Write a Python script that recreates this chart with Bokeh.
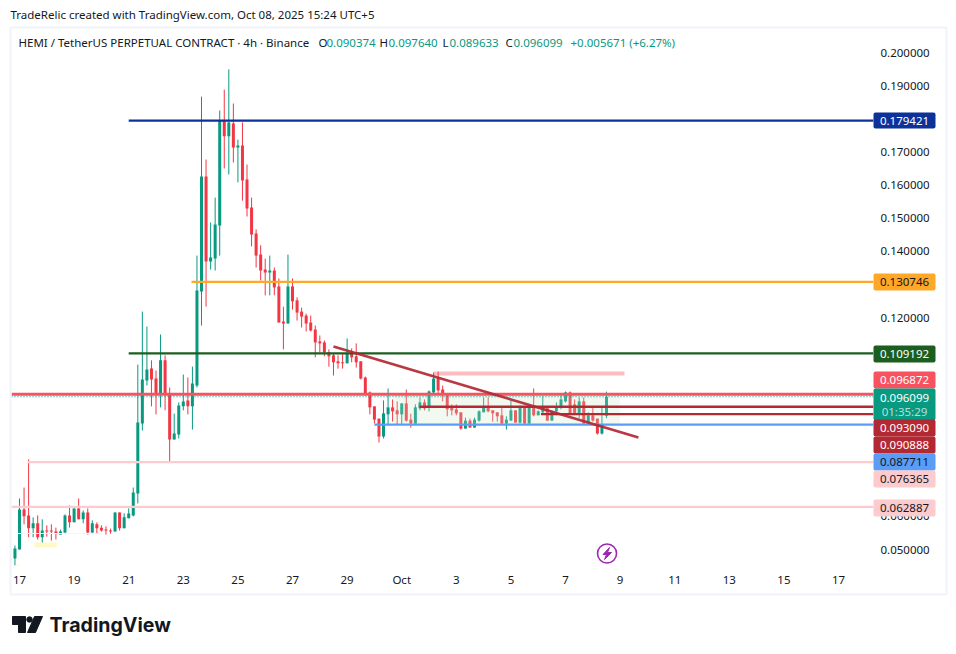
from bokeh.plotting import figure
from bokeh.layouts import row
from bokeh.embed import file_html
from bokeh.resources import INLINE
from bokeh.models import ColumnDataSource, FixedTicker, NumeralTickFormatter, Range1d
from bokeh.core.properties import value

opens = [0.0467,0.0473,0.0500,0.0621,0.0603,0.0564,0.0579,0.0537,0.0557,0.0557,0.0554,0.0545,0.0551,0.0603,0.0582,0.0624,0.0591,0.0612,0.0551,0.0576,0.0566,0.0560,0.0557,0.0554,0.0612,0.0564,0.0594,0.0603,0.0669,0.0880,0.1010,0.1046,0.1016,0.0971,0.1071,0.0968,0.0832,0.0847,0.0932,0.0950,0.0932,0.0995,0.1279,0.1626,0.1369,0.1378,0.1478,0.1795,0.1747,0.1786,0.1713,0.1719,0.1617,0.1532,0.1454,0.1390,0.1345,0.1336,0.1342,0.1294,0.1188,0.1182,0.1294,0.1252,0.1218,0.1206,0.1185,0.1164,0.1128,0.1125,0.1095,0.1086,0.1068,0.1065,0.1062,0.1092,0.1083,0.1068,0.1019,0.0974,0.0932,0.0895,0.0841,0.0908,0.0929,0.0920,0.0908,0.0941,0.0892,0.0880,0.0926,0.0944,0.0929,0.0974,0.1016,0.0983,0.0968,0.0929,0.0923,0.0914,0.0865,0.0889,0.0868,0.0889,0.0914,0.0932,0.0920,0.0914,0.0905,0.0880,0.0889,0.0920,0.0883,0.0929,0.0880,0.0929,0.0905,0.0914,0.0929,0.0889,0.0917,0.0932,0.0947,0.0974,0.0938,0.0911,0.0947,0.0880,0.0905,0.0895,0.0850,0.090374]
highs = [0.0482,0.0512,0.0654,0.0687,0.0772,0.0597,0.0603,0.0591,0.0573,0.0576,0.0566,0.0560,0.0606,0.0633,0.0624,0.0654,0.0618,0.0624,0.0588,0.0582,0.0573,0.0570,0.0563,0.0612,0.0612,0.0609,0.0624,0.0687,0.1058,0.1218,0.1173,0.1071,0.1040,0.1149,0.1086,0.0989,0.0910,0.0944,0.1028,0.1019,0.1052,0.1387,0.1867,0.1677,0.1487,0.1562,0.1825,0.1888,0.1949,0.1846,0.1737,0.1789,0.1662,0.1562,0.1466,0.1418,0.1378,0.1387,0.1351,0.1318,0.1233,0.1390,0.1318,0.1261,0.1230,0.1212,0.1206,0.1176,0.1146,0.1131,0.1104,0.1092,0.1086,0.1092,0.1137,0.1107,0.1122,0.1068,0.1022,0.0977,0.0932,0.0895,0.0950,0.0986,0.0953,0.0947,0.0941,0.0983,0.0910,0.0938,0.0959,0.0953,0.0980,0.1034,0.1037,0.0995,0.0968,0.0938,0.0938,0.0914,0.0898,0.0895,0.0898,0.0920,0.0959,0.0959,0.0920,0.0914,0.0929,0.0902,0.0950,0.0920,0.0935,0.0929,0.0929,0.0986,0.0920,0.0962,0.0929,0.0920,0.0944,0.0965,0.0977,0.0977,0.0953,0.0959,0.0959,0.0914,0.0929,0.0895,0.0929,0.09764]
lows = [0.0458,0.0452,0.0500,0.0576,0.0537,0.0537,0.0530,0.0515,0.0539,0.0527,0.0530,0.0545,0.0548,0.0566,0.0582,0.0591,0.0579,0.0545,0.0548,0.0548,0.0554,0.0545,0.0548,0.0554,0.0557,0.0564,0.0594,0.0600,0.0639,0.0859,0.0995,0.0932,0.0908,0.0929,0.0920,0.0766,0.0832,0.0835,0.0920,0.0908,0.0862,0.0989,0.1176,0.1233,0.1345,0.1342,0.1387,0.1650,0.1632,0.1668,0.1608,0.1553,0.1505,0.1415,0.1351,0.1312,0.1267,0.1267,0.1267,0.1185,0.1104,0.1182,0.1224,0.1191,0.1170,0.1158,0.1158,0.1080,0.1095,0.1083,0.1052,0.1025,0.1046,0.1046,0.1062,0.1065,0.1049,0.1013,0.0965,0.0908,0.0880,0.0823,0.0835,0.0877,0.0886,0.0877,0.0877,0.0886,0.0868,0.0880,0.0920,0.0920,0.0917,0.0968,0.0968,0.0947,0.0902,0.0905,0.0905,0.0862,0.0865,0.0868,0.0868,0.0886,0.0914,0.0914,0.0886,0.0886,0.0880,0.0862,0.0889,0.0883,0.0880,0.0880,0.0880,0.0902,0.0905,0.0911,0.0889,0.0889,0.0905,0.0923,0.0944,0.0905,0.0905,0.0896,0.0880,0.0880,0.0886,0.0847,0.0847,0.089633]
closes = [0.0473,0.0503,0.0621,0.0600,0.0564,0.0579,0.0537,0.0557,0.0554,0.0554,0.0548,0.0554,0.0603,0.0582,0.0624,0.0591,0.0612,0.0551,0.0579,0.0564,0.0557,0.0557,0.0554,0.0612,0.0564,0.0597,0.0609,0.0672,0.0883,0.1013,0.1043,0.1013,0.0968,0.1071,0.0968,0.0832,0.0850,0.0935,0.0947,0.0932,0.1001,0.1282,0.1626,0.1369,0.1381,0.1481,0.1795,0.1747,0.1789,0.1713,0.1719,0.1614,0.1529,0.1451,0.1387,0.1342,0.1336,0.1342,0.1291,0.1185,0.1182,0.1294,0.1249,0.1215,0.1203,0.1182,0.1161,0.1125,0.1122,0.1095,0.1083,0.1065,0.1062,0.1062,0.1092,0.1080,0.1065,0.1016,0.0968,0.0929,0.0892,0.0841,0.0911,0.0929,0.0917,0.0908,0.0941,0.0889,0.0880,0.0929,0.0944,0.0926,0.0977,0.1016,0.0980,0.0968,0.0923,0.0920,0.0911,0.0865,0.0889,0.0868,0.0892,0.0917,0.0932,0.0917,0.0911,0.0902,0.0880,0.0892,0.0920,0.0883,0.0929,0.0880,0.0929,0.0905,0.0917,0.0929,0.0889,0.0917,0.0932,0.0953,0.0974,0.0908,0.0908,0.0947,0.0880,0.0905,0.0889,0.0850,0.0877,0.096099]

# time axis: day number counted from 1 Sep (Oct 1 = 31); one candle every 4 hours
first_day = 16 + 2 / 3
candles_per_day = 6
date_ticks = [17, 19, 21, 23, 25, 27, 29, 31, 33, 35, 37, 39, 41, 43, 45, 47]
date_labels = ["17", "19", "21", "23", "25", "27", "29", "Oct", "3", "5", "7", "9", "11", "13", "15", "17"]
price_ticks = [0.05, 0.06, 0.12, 0.14, 0.15, 0.16, 0.17, 0.19, 0.20]

level_prices = [0.179421, 0.130746, 0.109192, 0.096872, 0.093090, 0.090888, 0.087711, 0.076365, 0.062887]
level_starts = [21.0, 23.3, 21.0, 16.7, 31.65, 36.1, 30.0, 17.3, 16.7]
level_colors = ["#0C3299", "#FFA726", "#1B5E20", "#F7525F", "#B22833", "#B22833", "#5B9CF6", "#FCCBCD", "#FCCBCD"]
level_widths = [2.3, 2.3, 2.3, 3, 2.3, 2.3, 2.3, 2.3, 2.3]

ohlc_letters = ["O", "H", "L", "C"]
ohlc_values = ["0.090374", "0.097640", "0.089633", "0.096099"]
last_price = 0.096099
UP, DOWN = "#089981", "#F23645"
TEXT = "#131722"
FONT = "Noto Sans"

X0, X1 = 16.707, 48.28
Y0, Y1 = 0.04487, 0.20755

days = [first_day + i / candles_per_day for i in range(len(closes))]
colors = [UP if c >= o else DOWN for o, c in zip(opens, closes)]
src = ColumnDataSource(dict(x=days, o=opens, h=highs, l=lows, c=closes, col=colors))

p = figure(width=956, height=654, output_backend="svg", toolbar_location=None,
           x_range=Range1d(X0, X1), y_range=Range1d(Y0, Y1), y_axis_location="right",
           min_border_left=11, min_border_right=83, min_border_top=27, min_border_bottom=88,
           outline_line_color=None, background_fill_color="white", border_fill_color="white")
p.grid.visible = False
p.frame_align = False

xa = p.xaxis[0]
xa.ticker = FixedTicker(ticks=date_ticks)
xa.major_label_overrides = {t: l for t, l in zip(date_ticks, date_labels)}
xa.major_label_standoff = 5
ya = p.yaxis[0]
ya.ticker = FixedTicker(ticks=price_ticks)
ya.formatter = NumeralTickFormatter(format="0.000000")
ya.major_label_standoff = 7
for ax in (xa, ya):
    ax.axis_line_color = None
    ax.major_tick_line_color = None
    ax.minor_tick_line_color = None
    ax.major_tick_out = 0
    ax.major_tick_in = 0
    ax.major_label_text_font = FONT
    ax.major_label_text_font_size = "11.5px"
    ax.major_label_text_color = TEXT

# candles
p.segment("x", "h", "x", "l", source=src, color="col", line_width=1)
p.vbar("x", 0.11, "o", "c", source=src, fill_color="col", line_color=None)

# marked zones
p.quad(left=[30.7], right=[39.0], top=[0.0968], bottom=[0.0877], fill_color="#C8E6C9", fill_alpha=0.25, line_color=None)
p.quad(left=[32.16], right=[39.16], top=[0.10372], bottom=[0.10251], fill_color="#F7525F", fill_alpha=0.38, line_color=None)
p.quad(left=[17.55], right=[18.36], top=[0.05211], bottom=[0.0506], fill_color="#FFF9C4", line_color=None)
p.segment([16.9], [0.05483], [20.0], [0.05483], color="#FFF9C4", line_width=1)
p.segment([16.85], [0.0453], [17.0], [0.0453], color="#FFF9C4", line_width=1)

# horizontal levels
for price, start, col, w in zip(level_prices, level_starts, level_colors, level_widths):
    p.segment([start], [price], [X1], [price], color=col, line_width=w)
p.segment([X0], [last_price], [X1], [last_price], color=UP, line_width=1, line_dash="1 2")

# trend line
p.segment([28.5], [0.11127], [39.67], [0.0838], color="#B22833", line_width=2.6, line_alpha=0.92)

# lightning badge
cx, cy = 38.52, 0.04879
dx, dy = 1 / 27.3, 1 / 3313.3
p.scatter([cx], [cy], size=19, marker="circle", fill_color="white", line_color="#9C27B0", line_width=1.6)
bolt = [(2.5, -6), (-4, 1), (-0.5, 1), (-2.5, 6), (4.5, -1), (0.5, -1)]
p.patch([cx + a * dx for a, _ in bolt], [cy - b * dy for _, b in bolt], color="#9C27B0")

# page furniture sits in a transparent, full-page layer on top (pixel scale, y down)
o = figure(width=956, height=654, output_backend="svg", toolbar_location=None,
           x_range=Range1d(0, 956), y_range=Range1d(654, 0), x_axis_type=None, y_axis_type=None,
           min_border=0, outline_line_color=None, background_fill_alpha=0, border_fill_alpha=0)
o.grid.visible = False
o.frame_align = False
o.margin = (0, 0, 0, -956)


def text(s, x, y, color=TEXT, size="11.5px", font=FONT, align="left", style="normal", alpha=1.0):
    o.text([x], [y], text=[s], text_color=color, text_alpha=alpha, text_font=value(font), text_font_size=value(size),
           text_align=align, text_baseline="middle", text_font_style=style)


# panel border
o.quad(left=[10], right=[946], top=[27], bottom=[594], fill_alpha=0, line_color="#F0F3FA", line_width=2)

# header
text("TradeRelic created with TradingView.com, Oct 08, 2025 15:24 UTC+5", 10, 14)
text("HEMI / TetherUS PERPETUAL CONTRACT \u00b7 4h \u00b7 Binance", 18, 42)
for pos, ltr in zip([318, 379, 442, 505], ohlc_letters):
    text(ltr, pos, 42)
for pos, val in zip([326, 388, 449, 513], ohlc_values):
    text(val, pos, 42, UP)
text("+0.005671 (+6.27%)", 570, 42, UP)

# price tags
tags = [("0.179421", 112, 128, "#0C3299", "white"), ("0.130746", 273, 290, "#FFA726", TEXT),
        ("0.109192", 345, 362, "#1B5E20", "white"), ("0.096872", 371, 388, "#F7525F", "white"),
        ("0.096099", 388, 420, "#089981", "white"), ("0.093090", 419, 436, "#B22833", "white"),
        ("0.090888", 436, 453, "#B22833", "white"), ("0.087711", 453, 470, "#5B9CF6", TEXT),
        ("0.076365", 470, 487, "#FCCBCD", TEXT), ("0.062887", 499, 516, "#FCCBCD", TEXT)]
for s, top, bot, fill, fg in tags:
    o.quad(left=[873], right=[935], top=[top], bottom=[bot], fill_color=fill, line_color=None, border_radius=2)
for s, top, bot, fill, fg in tags:
    yc = top + 8.5 if s != "0.096099" else 397
    text(s, 904, yc, fg, align="center")
text("01:35:29", 904, 411, "white", align="center", alpha=0.7)

# logo
BLACK = "#131722"
o.patch([12, 25, 25, 18, 18, 12], [616, 616, 632, 632, 624, 624], color=BLACK)
o.patch([34, 42, 35, 27], [616, 616, 632, 632], color=BLACK)
o.scatter([29], [619], size=5.5, marker="circle", color=BLACK)
text("TradingView", 49, 624, BLACK, size="19.6px", font="Inter", style="bold")

open("out.html", "w").write(file_html(row(p, o), INLINE))
